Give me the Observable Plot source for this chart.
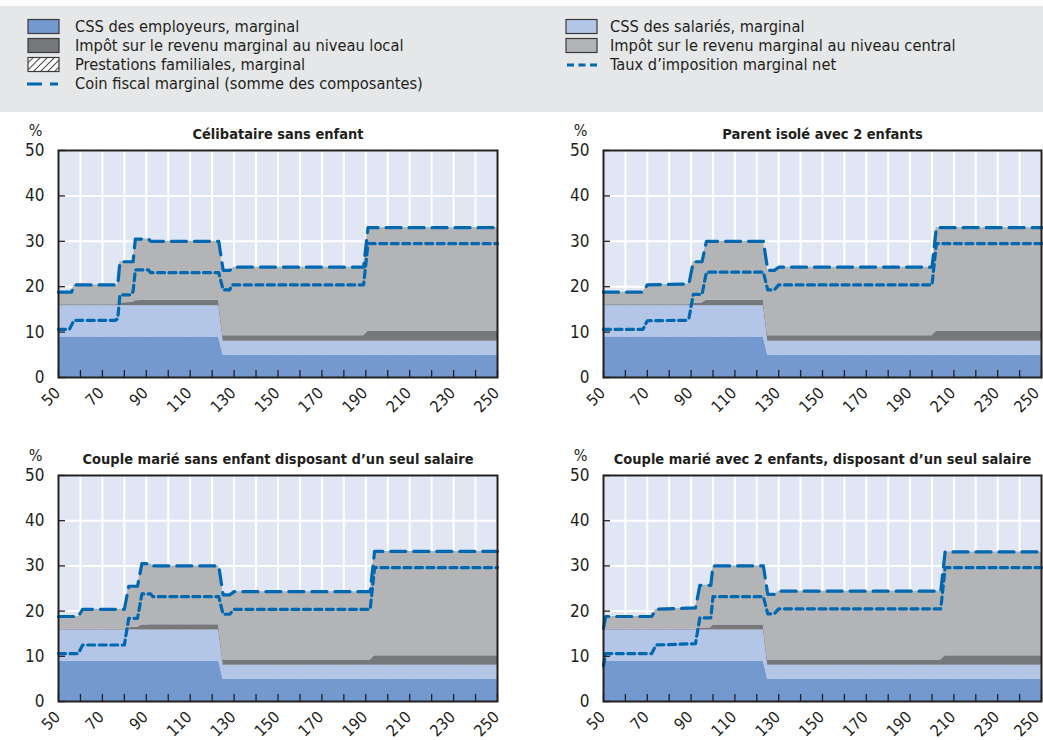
<!DOCTYPE html>
<html><head><meta charset="utf-8">
<script src="https://cdn.jsdelivr.net/npm/d3@7"></script>
<script src="https://cdn.jsdelivr.net/npm/@observablehq/plot@0.6"></script>
<style>
body{margin:0;background:#fff;width:1043px;height:740px;position:relative;overflow:hidden;font-family:"Liberation Sans Narrow","DejaVu Sans Condensed","Arial Narrow",sans-serif;color:#231f20;}
#legend{position:absolute;left:0;top:6px;width:1043px;height:106px;background:#e6e7e9;}
.item{position:absolute;font-size:16.3px;line-height:19px;height:19px;white-space:nowrap;}
.sw{position:absolute;}
.panel{position:absolute}
</style></head>
<body>
<div id="legend"></div>
<div id="p0" class="panel" style="left:0;top:115px"></div>
<div id="p1" class="panel" style="left:545px;top:115px"></div>
<div id="p2" class="panel" style="left:0;top:440px"></div>
<div id="p3" class="panel" style="left:545px;top:440px"></div>
<script>
// ---------- data ----------
const seriesNames = ["CSS des employeurs, marginal","CSS des salariés, marginal","Impôt sur le revenu marginal au niveau local","Impôt sur le revenu marginal au niveau central"];
const seriesColors = ["#7399cf","#b3c6e7","#77787b","#b3b4b6"];
const lineColor = "#0067b1";
const xTicks = [50,60,70,80,90,100,110,120,130,140,150,160,170,180,190,200,210,220,230,240,250];
const xTickLabels = [50,70,90,110,130,150,170,190,210,230];
const xLastLabel = [250];
const yTicks = [0,10,20,30,40,50];

// Panel 1 : Célibataire sans enfant
const p1Title = "Célibataire sans enfant";
const p1X        = [50,55,56,57,76,77,78,83,84,85,91,92,123,125,128,129,130,189,191,250];
const p1Employer = [8.9,8.9,8.9,8.9,8.9,8.9,8.9,8.9,8.9,8.9,8.9,8.9,8.9,4.9,4.9,4.9,4.9,4.9,4.9,4.9];
const p1Employee = [6.9,6.9,6.9,6.9,6.9,6.9,6.9,6.9,6.9,6.9,6.9,6.9,6.9,3.1,3.1,3.1,3.1,3.1,3.1,3.1];
const p1Local    = [0.2,0.2,0.2,0.2,0.2,0.3,0.6,0.7,0.8,1.1,1.2,1.2,1.2,1.2,1.2,1.2,1.2,1.2,2.2,2.2];
const p1Central  = [2.8,2.8,2.8,4.4,4.4,4.3,9.1,9.0,8.9,13.6,13.5,13.0,13.0,14.4,14.4,14.7,15.1,15.1,22.8,22.8];
const p1Net      = [10.6,10.6,11.6,12.6,12.6,13.0,18.2,18.2,19.0,23.7,23.7,23.1,23.1,19.3,19.3,20.4,20.4,20.4,29.5,29.5];

// Panel 2 : Parent isolé avec 2 enfants
const p2Title = "Parent isolé avec 2 enfants";
const p2X        = [50,68,70,88,89,91,95,97,123,125,128,130,200,202,250];
const p2Employer = [8.9,8.9,8.9,8.9,8.9,8.9,8.9,8.9,8.9,4.9,4.9,4.9,4.9,4.9,4.9];
const p2Employee = [6.9,6.9,6.9,6.9,6.9,6.9,6.9,6.9,6.9,3.1,3.1,3.1,3.1,3.1,3.1];
const p2Local    = [0.2,0.2,0.2,0.2,0.2,0.5,0.6,1.2,1.2,1.2,1.2,1.2,1.2,2.2,2.2];
const p2Central  = [2.8,2.8,4.4,4.6,4.6,9.2,9.1,13.0,13.0,14.4,14.4,15.1,15.1,22.8,22.8];
const p2Net      = [10.6,10.6,12.5,12.6,13.0,18.3,18.3,23.2,23.2,19.3,19.3,20.4,20.4,29.5,29.5];

// Panel 3 : Couple marié sans enfant disposant d'un seul salaire
const p3Title = "Couple marié sans enfant disposant d’un seul salaire";
const p3X        = [50,59,61,80,82,86,88,92,93,123,125,128,130,192,194,250];
const p3Employer = [8.9,8.9,8.9,8.9,8.9,8.9,8.9,8.9,8.9,8.9,4.9,4.9,4.9,4.9,4.9,4.9];
const p3Employee = [6.9,6.9,6.9,6.9,6.9,6.9,6.9,6.9,6.9,6.9,3.1,3.1,3.1,3.1,3.1,3.1];
const p3Local    = [0.2,0.2,0.2,0.2,0.5,0.6,1.1,1.2,1.2,1.2,1.2,1.2,1.2,1.2,2.1,2.1];
const p3Central  = [2.8,2.8,4.4,4.4,9.2,9.1,13.6,13.5,13.0,13.0,14.4,14.4,15.1,15.1,23.1,23.1];
const p3Net      = [10.6,10.6,12.5,12.5,18.4,18.4,23.8,23.8,23.2,23.2,19.3,19.3,20.4,20.4,29.6,29.6];

// Panel 4 : Couple marié avec 2 enfants, disposant d'un seul salaire
const p4Title = "Couple marié avec 2 enfants, disposant d’un seul salaire";
const p4X        = [50,51,72,74,92,94,99,100,123,125,128,130,204,206,250];
const p4Employer = [8.9,8.9,8.9,8.9,8.9,8.9,8.9,8.9,8.9,4.9,4.9,4.9,4.9,4.9,4.9];
const p4Employee = [6.9,6.9,6.9,6.9,6.9,6.9,6.9,6.9,6.9,3.1,3.1,3.1,3.1,3.1,3.1];
const p4Local    = [0.2,0.2,0.2,0.2,0.2,0.4,0.5,1.1,1.1,1.2,1.2,1.2,1.2,2.1,2.1];
const p4Central  = [0.2,2.8,2.8,4.4,4.7,9.5,9.4,13.1,13.1,14.5,14.5,15.2,15.2,23.0,23.0];
const p4Net      = [7.9,10.6,10.6,12.5,12.8,18.5,18.5,23.2,23.2,19.4,19.4,20.5,20.5,29.6,29.6];

// ---------- legend ----------
const legendItems = [
  {label:"CSS des employeurs, marginal", kind:"box", color:seriesColors[0], col:0, row:0},
  {label:"Impôt sur le revenu marginal au niveau local", kind:"box", color:seriesColors[2], col:0, row:1},
  {label:"Prestations familiales, marginal", kind:"hatch", col:0, row:2},
  {label:"Coin fiscal marginal (somme des composantes)", kind:"dash", col:0, row:3},
  {label:"CSS des salariés, marginal", kind:"box", color:seriesColors[1], col:1, row:0},
  {label:"Impôt sur le revenu marginal au niveau central", kind:"box", color:seriesColors[3], col:1, row:1},
  {label:"Taux d’imposition marginal net", kind:"dot", col:1, row:2}
];
const leg = document.getElementById("legend");
const colSwX = [27, 565], colTxX = [75, 610], rowY = [20, 39, 58, 77];
for (const it of legendItems) {
  const sw = document.createElementNS("http://www.w3.org/2000/svg","svg");
  sw.setAttribute("width",34); sw.setAttribute("height",17);
  sw.setAttribute("class","sw");
  sw.style.left = colSwX[it.col]+"px"; sw.style.top = (rowY[it.row]-8)+"px";
  let inner = "";
  if (it.kind==="box") inner = `<rect x="1" y="1.5" width="31" height="14" fill="${it.color}" stroke="#3a3a3c" stroke-width="1.2"/>`;
  else if (it.kind==="hatch") inner = `<defs><pattern id="hp" width="5" height="5" patternUnits="userSpaceOnUse" patternTransform="rotate(45)"><rect width="5" height="5" fill="#fff"/><line x1="0" y1="0" x2="0" y2="5" stroke="#231f20" stroke-width="1.6"/></pattern></defs><rect x="1" y="1.5" width="31" height="14" fill="url(#hp)" stroke="#3a3a3c" stroke-width="1.2"/>`;
  else if (it.kind==="dash") inner = `<line x1="0" y1="9" x2="31" y2="9" stroke="${lineColor}" stroke-width="3" stroke-dasharray="15,8"/>`;
  else inner = `<line x1="2" y1="9" x2="32" y2="9" stroke="${lineColor}" stroke-width="3" stroke-dasharray="7,4.5"/>`;
  sw.innerHTML = inner;
  leg.appendChild(sw);
  const tx = document.createElement("div");
  tx.className = "item"; tx.textContent = it.label;
  tx.style.left = colTxX[it.col]+"px"; tx.style.top = (rowY[it.row]-9)+"px";
  leg.appendChild(tx);
}

// ---------- panels ----------
const FONT = '"Liberation Sans Narrow","DejaVu Sans Condensed","Arial Narrow",sans-serif';
function drawPanel(id, title, X, emp, sal, loc, cen, net, width, height, marginLeft, marginRight, marginBottom, lastDx) {
  const comps = [emp, sal, loc, cen];
  const rows = [];
  comps.forEach((arr, s) => X.forEach((x, i) => rows.push({x, v: arr[i], series: seriesNames[s]})));
  const wedge = X.map((x, i) => ({x, v: emp[i] + sal[i] + loc[i] + cen[i]}));
  const netRows = X.map((x, i) => ({x, v: net[i]}));
  const chart = Plot.plot({
    width, height, marginLeft, marginRight, marginTop: 35, marginBottom,
    style: {fontFamily: FONT, fontSize: "17px", color: "#231f20", background: "transparent", overflow: "visible"},
    x: {domain: [50, 250], label: null},
    y: {domain: [0, 50], label: null},
    color: {domain: seriesNames, range: seriesColors},
    marks: [
      Plot.frame({fill: "#e0e6f4"}),
      Plot.gridX(xTicks, {stroke: "#ffffff", strokeOpacity: 1, strokeWidth: 2}),
      Plot.gridY(yTicks, {stroke: "#ffffff", strokeOpacity: 1, strokeWidth: 2}),
      Plot.areaY(rows, {x: "x", y: "v", fill: "series", order: seriesNames}),
      Plot.line(wedge, {x: "x", y: "v", stroke: lineColor, strokeWidth: 3.2, strokeDasharray: "15,8"}),
      Plot.line(netRows, {x: "x", y: "v", stroke: lineColor, strokeWidth: 3.2, strokeDasharray: "7,4.5"}),
      Plot.axisX(xTicks, {tickSize: -7, tickFormat: () => "", stroke: "#231f20", strokeWidth: 1.3, label: null}),
      Plot.axisX(xTickLabels, {tickSize: 0, tickPadding: 13, tickRotate: -45, dx: -1, fontSize: 16, label: null}),
      Plot.axisX(xLastLabel, {tickSize: 0, tickPadding: 13, tickRotate: -45, dx: lastDx, fontSize: 16, label: null}),
      Plot.axisY(yTicks, {tickSize: -7, tickFormat: () => "", stroke: "#231f20", strokeWidth: 1.3, label: null}),
      Plot.axisY(yTicks, {tickSize: 0, tickPadding: 14, label: null}),
      Plot.frame({stroke: "#231f20", strokeWidth: 2}),
      Plot.text([title], {frameAnchor: "top", lineAnchor: "bottom", dy: -12, fontWeight: "bold", fontSize: 14.5}),
      Plot.text(["%"], {frameAnchor: "top-left", lineAnchor: "bottom", textAnchor: "middle", dx: -23, dy: -15, fontSize: 16})
    ]
  });
  document.getElementById(id).appendChild(chart);
}
drawPanel("p0", p1Title, p1X, p1Employer, p1Employee, p1Local, p1Central, p1Net, 520, 320, 58, 23, 58, -1);
drawPanel("p1", p2Title, p2X, p2Employer, p2Employee, p2Local, p2Central, p2Net, 498, 320, 58, 2, 58, -5);
drawPanel("p2", p3Title, p3X, p3Employer, p3Employee, p3Local, p3Central, p3Net, 520, 300, 58, 23, 39, -1);
drawPanel("p3", p4Title, p4X, p4Employer, p4Employee, p4Local, p4Central, p4Net, 498, 300, 58, 2, 39, -5);
</script>
</body></html>
